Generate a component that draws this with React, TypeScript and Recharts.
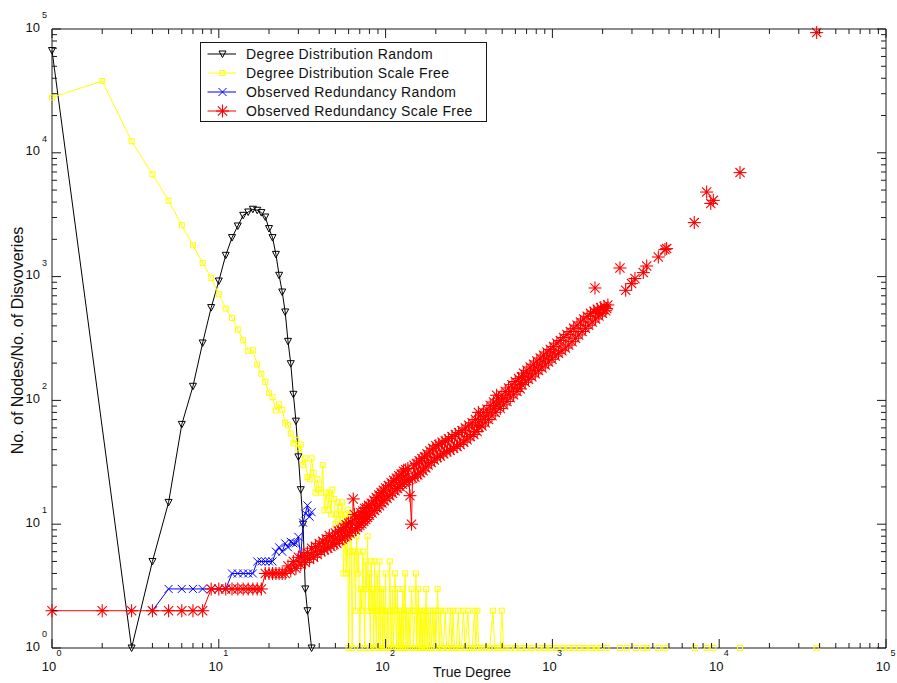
import { ComposedChart, Line, Scatter, XAxis, YAxis, ReferenceArea } from "recharts";

const FONT = "Arial, 'Liberation Sans', Helvetica, sans-serif";
const AXIS = "#1a1a1a";

// plot box in page pixels (chart margins + axis sizes below give the same box)
const PLOT_LEFT = 52;
const PLOT_RIGHT = 886;
const PLOT_TOP = 29;
const PLOT_BOTTOM = 648;

const DECADES = [1, 10, 100, 1000, 10000, 100000];
const MINOR_STEPS = [1, 2, 3, 4, 5, 6, 7, 8, 9];
const LOG_TICKS = DECADES.flatMap((d) => (d === 100000 ? [d] : MINOR_STEPS.map((k) => k * d)));

const SERIES_NAMES = [
  "Degree Distribution Random",
  "Degree Distribution Scale Free",
  "Observed Redundancy Random",
  "Observed Redundancy Scale Free",
];
const SERIES_COLORS = ["#000000", "#ffff00", "#0000ff", "#ff0000"];
const SERIES_MARKERS = ["triangle", "square", "cross", "star"];

// [degree, count]
const RANDOM_DEGREES: [number, number][] = [
  [1, 67000], [3, 1], [4, 5], [5, 15], [6, 64], [7, 130], [8, 291], [9, 562], [10, 921],
  [11, 1486], [12, 2066], [13, 2565], [14, 3126], [15, 3326], [16, 3500], [17, 3436], [18, 3289],
  [19, 3030], [20, 2443], [21, 2066], [22, 1513], [23, 1025], [24, 751], [25, 518], [26, 300],
  [27, 198], [28, 112], [29, 68], [30, 35], [31, 19], [32, 10], [33, 3], [34, 2], [36, 1],
];

const SCALE_FREE_DEGREES: [number, number][] = [
  [1, 28000], [2, 38000], [3, 12400], [4, 6700], [5, 4100], [6, 2600], [7, 1790], [8, 1290],
  [9, 975], [10, 720], [11, 552], [12, 463], [13, 373], [14, 306], [15, 251], [16, 254],
  [17, 195], [18, 164], [19, 141], [20, 115], [21, 106], [22, 83], [23, 93], [24, 84], [25, 66],
  [26, 63], [27, 54], [28, 45], [29, 48], [30, 41], [31, 44], [32, 30], [33, 34], [34, 24],
  [35, 23], [36, 34], [37, 26], [38, 18], [39, 23], [40, 19], [41, 18], [42, 30], [43, 13],
  [44, 18], [45, 13], [46, 18], [47, 12], [48, 19], [49, 16], [50, 10], [51, 12], [52, 15],
  [53, 10], [54, 12], [55, 15], [56, 4], [57, 12], [58, 4], [59, 13], [60, 1], [61, 6], [62, 12],
  [63, 1], [64, 6], [65, 6], [66, 2], [67, 8], [68, 4], [69, 6], [70, 1], [71, 3], [72, 2],
  [73, 6], [74, 3], [75, 1], [76, 5], [77, 3], [78, 8], [79, 2], [80, 4], [81, 1], [82, 5],
  [83, 2], [84, 3], [85, 1], [86, 5], [87, 2], [88, 1], [89, 4], [90, 2], [91, 1], [92, 5],
  [93, 1], [94, 3], [95, 2], [96, 1], [97, 3], [98, 1], [99, 2], [100, 4], [101, 1], [103, 2],
  [104, 1], [106, 5], [107, 2], [108, 1], [110, 3], [111, 1], [113, 2], [114, 4], [116, 1],
  [118, 3], [119, 1], [121, 2], [122, 1], [124, 2], [125, 1], [127, 3], [128, 1], [129, 2],
  [131, 4], [132, 1], [134, 2], [136, 1], [138, 2], [140, 1], [143, 3], [145, 2], [147, 1],
  [150, 2], [152, 4], [154, 1], [157, 3], [159, 1], [161, 2], [163, 1], [165, 2], [167, 1],
  [170, 2], [172, 1], [175, 3], [177, 1], [180, 2], [183, 1], [185, 2], [188, 1], [192, 2],
  [195, 1], [198, 2], [200, 1], [205, 3], [207, 2], [210, 1], [214, 2], [218, 1], [222, 1],
  [228, 2], [232, 1], [238, 1], [245, 2], [250, 1], [254, 2], [258, 1], [265, 1], [273, 2],
  [278, 1], [285, 1], [293, 2], [300, 1], [312, 2], [318, 1], [330, 1], [342, 2], [348, 1],
  [355, 2], [362, 1], [375, 1], [390, 1], [405, 1], [420, 1], [441, 2], [450, 1], [470, 1],
  [488, 1], [497, 2], [510, 1], [560, 1], [600, 1], [650, 1], [700, 1], [760, 1], [830, 1],
  [900, 1], [980, 1], [1060, 1], [1150, 1], [1250, 1], [1350, 1], [1450, 1], [1560, 1],
  [1700, 1], [1850, 1], [1930, 1],
];

// isolated high degrees, no neighbours to join
const SCALE_FREE_TAIL: [number, number][] = [
  [2116, 1], [2541, 1], [2790, 1], [3170, 1], [3508, 1], [3700, 1], [4315, 1], [4750, 1],
  [7160, 1], [8410, 1], [9220, 1], [13330, 1], [38400, 1],
];

const RANDOM_REDUNDANCY: [number, number][] = [
  [4, 2], [5, 3], [6, 3], [7, 3], [8, 3], [9, 3], [10, 3], [11, 3], [12, 4], [13, 4], [14, 4],
  [15, 4], [16, 4], [17, 5], [18, 5], [19, 5], [20, 5], [21, 5], [22, 6], [23, 6.5], [24, 6],
  [25, 7], [26, 6.5], [27, 7.2], [28, 7], [29, 7], [30, 7.9], [31, 5.4], [32, 10.3], [33, 12.2],
  [34, 14.2], [35, 11.5], [36, 12.5],
];

const SCALE_FREE_REDUNDANCY: [number, number][] = [
  [1, 2], [2, 2], [3, 2], [4, 2], [5, 2], [6, 2], [7, 2], [8, 2],
  [9, 3], [10, 3], [11, 3], [12, 3], [13, 3], [14, 3], [15, 3], [16, 3], [17, 3], [18, 3],
  [19, 4], [20, 4], [21, 4], [22, 4], [23, 4], [24, 4], [25, 4], [26, 4.6], [27, 4.2], [28, 5],
  [29, 4.4], [30, 5.4], [31, 4.7], [32, 5.6], [33, 4.9], [34, 5.9], [35, 5.2], [36, 6.4],
  [37, 5.4], [38, 6.6], [39, 5.7], [40, 7], [41, 6], [42, 7.3], [43, 6.2], [44, 7.6], [45, 6.4],
  [46, 8.1], [47, 6.6], [48, 7.9], [49, 6.9], [50, 8.5], [51, 7], [52, 8.8], [53, 7.4], [54, 9],
  [55, 7.6], [56, 9.4], [57, 7.9], [58, 9.9], [59, 8.1], [60, 10.2], [61, 8.5], [62, 10.4],
  [63, 8.8], [64, 16], [65, 12], [66, 9], [67, 11.2], [68, 9.4], [69, 11.6], [70, 9.8],
  [71, 12.4], [72, 10.1], [73, 12.8], [74, 10.5], [75, 13.4], [76, 10.9], [77, 13.6], [78, 11.3],
  [79, 14.2], [80, 11.8], [82, 14.8], [83, 12.3], [85, 15.6], [86, 12.9], [88, 16.4], [89, 13.5],
  [91, 17.2], [92, 14.1], [94, 18], [95, 14.8], [97, 18.8], [98, 15.5], [100, 19.6], [102, 16.2],
  [104, 20.5], [106, 17], [108, 21.6], [110, 17.8], [112, 22.6], [114, 18.6], [116, 23.5],
  [118, 19.4], [120, 24.6], [122, 20.2], [124, 25.5], [126, 21], [128, 26.8], [130, 21.8],
  [132, 27.5], [134, 22.4], [136, 28.2], [138, 23], [140, 17], [143, 10], [145, 23.5], [148, 30],
  [150, 24], [153, 31], [156, 25], [159, 32.5], [162, 26], [165, 34], [168, 27], [171, 35],
  [174, 28.5], [177, 37], [180, 30], [184, 39], [188, 31.5], [192, 41], [196, 33], [200, 43],
  [204, 34.5], [208, 44], [213, 35.5], [218, 46], [223, 37], [228, 47], [233, 38.5], [238, 49],
  [244, 39.5], [250, 51], [256, 41], [262, 53], [268, 42.5], [274, 55], [280, 44], [287, 57],
  [294, 46], [301, 60], [308, 48], [315, 63], [322, 51], [330, 66], [338, 53], [346, 70],
  [354, 56], [360, 80], [362, 61], [370, 75], [378, 62], [387, 80], [396, 66], [405, 85],
  [414, 70], [424, 91], [434, 75], [444, 97], [454, 80], [463, 110], [465, 90], [476, 104],
  [487, 86], [498, 110], [510, 92], [522, 118], [534, 98], [546, 126], [559, 105], [572, 134],
  [585, 111], [599, 142], [613, 118], [627, 150], [641, 124], [654, 155], [656, 134], [671, 166],
  [687, 140], [703, 175], [719, 148], [736, 186], [753, 155], [771, 196], [789, 164], [807, 208],
  [826, 174], [845, 220], [865, 183], [885, 232], [906, 193], [927, 246], [949, 204], [971, 258],
  [994, 215], [1017, 272], [1040, 228],
];

const SCALE_FREE_REDUNDANCY_TAIL: [number, number][] = [
  [1064, 290], [1089, 240], [1115, 305], [1141, 252], [1168, 322], [1195, 265], [1223, 340],
  [1252, 280], [1281, 360], [1311, 298], [1342, 382], [1373, 318], [1405, 405], [1438, 338],
  [1472, 430], [1507, 360], [1542, 455], [1578, 382], [1615, 478], [1653, 405], [1692, 505],
  [1732, 430], [1773, 525], [1800, 809], [1815, 455], [1858, 545], [1884, 512], [1902, 480],
  [1947, 560], [1993, 505], [2040, 575], [2088, 530], [2116, 552], [2150, 590], [2541, 1174],
  [2750, 775], [2985, 878], [3126, 964], [3508, 1077], [3675, 1218], [4315, 1440], [4730, 1652],
  [4840, 1683], [7090, 2730], [8410, 4820], [8900, 3900], [9220, 4130], [13330, 6920],
  [38400, 93500],
];

const toPoints = (rows: [number, number][]) => rows.map(([x, y]) => ({ x, y }));

const Marker = ({ kind, cx, cy, color }: { kind: string; cx: number; cy: number; color: string }) => {
  if (kind === "triangle") {
    return (
      <polygon
        points={`${cx - 3.5},${cy - 3} ${cx + 3.5},${cy - 3} ${cx},${cy + 3.5}`}
        fill="none"
        stroke={color}
        strokeWidth={1}
      />
    );
  }
  if (kind === "square") {
    return <rect x={cx - 2.5} y={cy - 2.5} width={5} height={5} fill="none" stroke={color} strokeWidth={1} />;
  }
  if (kind === "cross") {
    return (
      <g stroke={color} strokeWidth={1}>
        <line x1={cx - 4} y1={cy - 4} x2={cx + 4} y2={cy + 4} />
        <line x1={cx - 4} y1={cy + 4} x2={cx + 4} y2={cy - 4} />
      </g>
    );
  }
  return (
    <g stroke={color} strokeWidth={1.1}>
      <line x1={cx - 6.5} y1={cy} x2={cx + 6.5} y2={cy} />
      <line x1={cx} y1={cy - 6.5} x2={cx} y2={cy + 6.5} />
      <line x1={cx - 4.6} y1={cy - 4.6} x2={cx + 4.6} y2={cy + 4.6} />
      <line x1={cx - 4.6} y1={cy + 4.6} x2={cx + 4.6} y2={cy - 4.6} />
      <circle cx={cx} cy={cy} r={1.3} fill={color} stroke="none" />
    </g>
  );
};

const dotFor = (i: number) => (p: any) =>
  p.cx == null || p.cy == null ? (
    <g key={`d-${i}-${p.index}`} />
  ) : (
    <Marker key={`d-${i}-${p.index}`} kind={SERIES_MARKERS[i]} cx={p.cx} cy={p.cy} color={SERIES_COLORS[i]} />
  );

const shapeFor = (i: number) => (p: any) =>
  <Marker kind={SERIES_MARKERS[i]} cx={p.cx} cy={p.cy} color={SERIES_COLORS[i]} />;

const exponentOf = (v: number) => DECADES.indexOf(v);

const XTick = (props: any) => {
  const { x, payload } = props;
  const v = payload.value;
  const exp = exponentOf(v);
  const len = exp >= 0 ? 9 : 5;
  return (
    <g>
      <line x1={x} y1={PLOT_BOTTOM} x2={x} y2={PLOT_BOTTOM - len} stroke={AXIS} />
      <line x1={x} y1={PLOT_TOP} x2={x} y2={PLOT_TOP + len} stroke={AXIS} />
      {exp >= 0 && (
        <g fontFamily={FONT} fill="#111">
          <text x={x - 3} y={671} textAnchor="middle" fontSize={13}>10</text>
          <text x={x + 7} y={656} textAnchor="middle" fontSize={9}>{exp}</text>
        </g>
      )}
    </g>
  );
};

const YTick = (props: any) => {
  const { y, payload } = props;
  const v = payload.value;
  const exp = exponentOf(v);
  const len = exp >= 0 ? 9 : 5;
  return (
    <g>
      <line x1={PLOT_LEFT} y1={y} x2={PLOT_LEFT + len} y2={y} stroke={AXIS} />
      <line x1={PLOT_RIGHT} y1={y} x2={PLOT_RIGHT - len} y2={y} stroke={AXIS} />
      {exp >= 0 && (
        <g fontFamily={FONT} fill="#111">
          <text x={40} y={y + 2.5} textAnchor="end" fontSize={13}>10</text>
          <text x={42} y={y - 11} textAnchor="start" fontSize={9}>{exp}</text>
        </g>
      )}
    </g>
  );
};

const XTitle = (p: any) => {
  const vb = p.viewBox;
  return (
    <text x={vb.x + vb.width / 2 + 3} y={677} textAnchor="middle" fontFamily={FONT} fontSize={14} fill="#111">
      True Degree
    </text>
  );
};

const YTitle = (p: any) => {
  const vb = p.viewBox;
  const cy = vb.y + vb.height / 2 + 2;
  return (
    <text
      x={23}
      y={cy}
      transform={`rotate(-90 23 ${cy})`}
      textAnchor="middle"
      fontFamily={FONT}
      fontSize={16}
      fill="#111"
    >
      No. of Nodes/No. of Disvoveries
    </text>
  );
};

const LegendBox = () => (
  <div
    style={{
      position: "absolute",
      left: 200,
      top: 42,
      width: 287,
      height: 80,
      boxSizing: "border-box",
      border: `1px solid ${AXIS}`,
      background: "#fff",
      fontFamily: FONT,
      fontSize: 14,
      letterSpacing: 0.4,
      color: "#111",
    }}
  >
    {SERIES_NAMES.map((name, i) => (
      <div key={name} style={{ position: "absolute", left: 0, top: 1 + i * 19, height: 20, width: "100%" }}>
        <svg width={40} height={20} style={{ position: "absolute", left: 0, top: 0 }}>
          <line x1={6.5} y1={10} x2={35} y2={10} stroke={SERIES_COLORS[i]} strokeWidth={1} />
          <Marker kind={SERIES_MARKERS[i]} cx={21.5} cy={10} color={SERIES_COLORS[i]} />
        </svg>
        <span style={{ position: "absolute", left: 45, top: 0, lineHeight: "20px", whiteSpace: "nowrap" }}>{name}</span>
      </div>
    ))}
  </div>
);

export default function App() {
  return (
    <div style={{ position: "absolute", left: 0, top: 0, width: 897, height: 683, background: "#fff" }}>
      <ComposedChart width={897} height={683} margin={{ top: PLOT_TOP, right: 897 - PLOT_RIGHT, bottom: 0, left: 0 }}>
        <XAxis
          dataKey="x"
          type="number"
          scale="log"
          domain={[1, 100000]}
          ticks={LOG_TICKS}
          interval={0}
          height={683 - PLOT_BOTTOM}
          axisLine={false}
          tickLine={false}
          tick={XTick}
          label={{ content: XTitle }}
        />
        <YAxis
          dataKey="y"
          type="number"
          scale="log"
          domain={[1, 100000]}
          ticks={LOG_TICKS}
          interval={0}
          width={PLOT_LEFT}
          axisLine={false}
          tickLine={false}
          tick={YTick}
          label={{ content: YTitle }}
        />
        <ReferenceArea x1={1} x2={100000} y1={1} y2={100000} fill="none" fillOpacity={0} stroke={AXIS} strokeWidth={1} />
        <Line
          data={toPoints(RANDOM_DEGREES)}
          dataKey="y"
          type="linear"
          stroke={SERIES_COLORS[0]}
          strokeWidth={1}
          dot={dotFor(0)}
          activeDot={false}
          isAnimationActive={false}
        />
        <Line
          data={toPoints(SCALE_FREE_DEGREES)}
          dataKey="y"
          type="linear"
          stroke={SERIES_COLORS[1]}
          strokeWidth={1}
          dot={dotFor(1)}
          activeDot={false}
          isAnimationActive={false}
        />
        <Scatter data={toPoints(SCALE_FREE_TAIL)} dataKey="y" shape={shapeFor(1)} isAnimationActive={false} />
        <Line
          data={toPoints(RANDOM_REDUNDANCY)}
          dataKey="y"
          type="linear"
          stroke={SERIES_COLORS[2]}
          strokeWidth={1}
          dot={dotFor(2)}
          activeDot={false}
          isAnimationActive={false}
        />
        <Line
          data={toPoints(SCALE_FREE_REDUNDANCY)}
          dataKey="y"
          type="linear"
          stroke={SERIES_COLORS[3]}
          strokeWidth={1}
          dot={dotFor(3)}
          activeDot={false}
          isAnimationActive={false}
        />
        <Scatter data={toPoints(SCALE_FREE_REDUNDANCY_TAIL)} dataKey="y" shape={shapeFor(3)} isAnimationActive={false} />
      </ComposedChart>
      <LegendBox />
    </div>
  );
}
